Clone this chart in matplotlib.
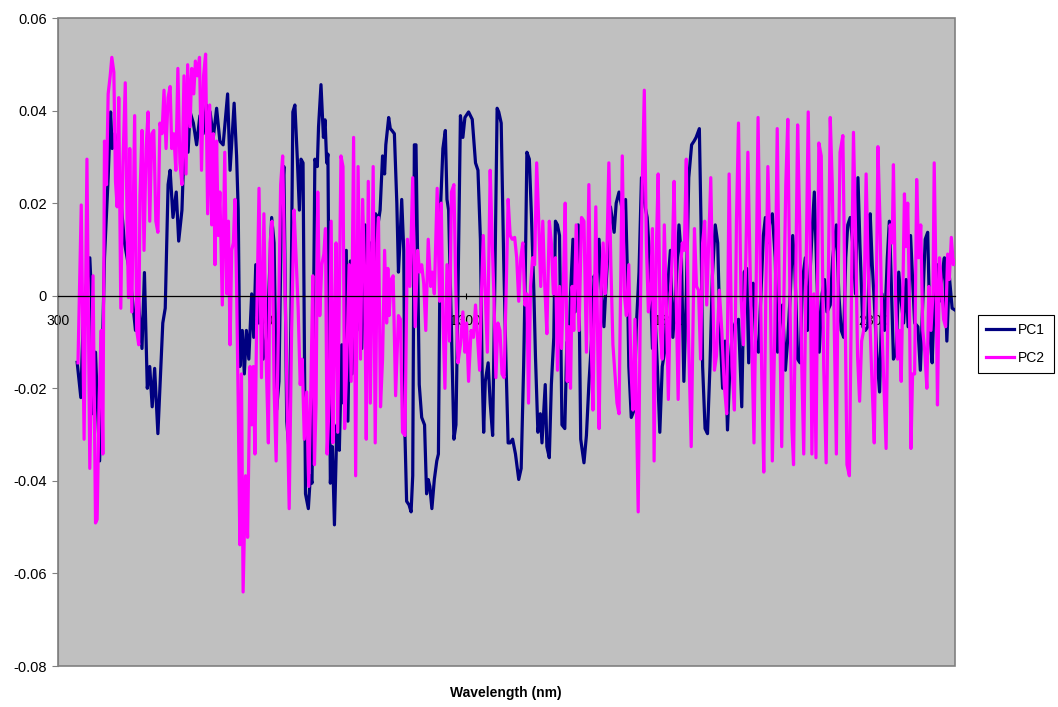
import numpy as np
import matplotlib.pyplot as plt
from matplotlib.ticker import FuncFormatter

plt.rcParams['font.family'] = ['Liberation Sans', 'DejaVu Sans']
plt.rcParams['axes.unicode_minus'] = False

# PC1 loadings (turning points)
pc1_wl = [347, 356, 361, 365, 378, 382, 386, 392, 396, 402, 406, 414, 423, 429, 433, 439, 451, 463, 476, 490,
          496, 506, 512, 519, 525, 531, 537, 545, 550, 557, 563, 570, 575, 582, 590, 596, 604, 610, 619, 624,
          632, 640, 648, 656, 664, 673, 681, 689, 697, 705, 716, 722, 732, 738, 742, 746, 752, 757, 762, 768,
          775, 780, 785, 791, 798, 803, 811, 817, 824, 830, 836, 842, 848, 854, 861, 866, 871, 876, 881, 887,
          892, 896, 901, 907, 914, 919, 923, 930, 936, 939, 945, 951, 955, 959, 962, 968, 973, 978, 984, 990,
          996, 1000, 1007, 1011, 1017, 1021, 1027, 1033, 1041, 1045, 1053, 1057, 1066, 1071, 1079, 1086, 1090, 1096, 1101, 1104,
          1111, 1115, 1119, 1125, 1131, 1135, 1139, 1143, 1148, 1151, 1155, 1161, 1166, 1170, 1174, 1178, 1182, 1186, 1192, 1199,
          1204, 1208, 1212, 1217, 1223, 1229, 1233, 1238, 1244, 1250, 1254, 1258, 1265, 1271, 1276, 1281, 1287, 1293, 1298, 1307,
          1316, 1324, 1330, 1336, 1340, 1344, 1348, 1355, 1360, 1366, 1371, 1377, 1381, 1387, 1393, 1399, 1404, 1409, 1415, 1422,
          1430, 1436, 1442, 1446, 1450, 1456, 1461, 1467, 1471, 1477, 1483, 1487, 1491, 1495, 1499, 1505, 1510, 1516, 1520, 1525,
          1530, 1536, 1543, 1548, 1552, 1557, 1563, 1568, 1576, 1582, 1590, 1596, 1602, 1609, 1615, 1620, 1627, 1633, 1639, 1643,
          1650, 1655, 1664, 1669, 1676, 1684, 1692, 1696, 1700, 1706, 1713, 1718, 1725, 1731, 1740, 1745, 1751, 1758, 1764, 1770,
          1776, 1782, 1789, 1794, 1802, 1808, 1815, 1823, 1829, 1835, 1841, 1847, 1854, 1860, 1865, 1873, 1877, 1881, 1887, 1893,
          1899, 1905, 1912, 1918, 1923, 1930, 1936, 1942, 1948, 1954, 1961, 1969, 1977, 1983, 1989, 1994, 2000, 2005, 2012, 2018,
          2024, 2030, 2035, 2040, 2046, 2052, 2059, 2065, 2071, 2077, 2084, 2090, 2096, 2102, 2107, 2114, 2120, 2126, 2133, 2138,
          2142, 2149, 2155, 2160, 2167, 2174, 2180, 2186, 2194, 2200, 2209, 2215, 2221, 2227, 2232, 2237, 2243, 2249, 2256, 2262,
          2267, 2274, 2280, 2286, 2292, 2297, 2302, 2308, 2315, 2321, 2327, 2334, 2339, 2343, 2349, 2356, 2362, 2368, 2374, 2380,
          2385, 2391, 2396, 2401, 2409, 2415, 2421, 2427, 2433, 2439, 2444, 2450, 2456, 2462, 2468, 2474, 2480, 2486, 2493, 2500]
pc1 = [-0.0144, -0.0220, -0.0075, -0.0010, 0.0082, 0.0004, -0.0255, -0.0122, -0.0216, -0.0357, -0.0232, 0.0082, 0.0255, 0.0397, 0.0318, 0.0350, 0.0240, 0.0114, 0.0050, -0.0075,
       0.0004, -0.0114, 0.0050, -0.0200, -0.0153, -0.0240, -0.0157, -0.0298, -0.0200, -0.0059, -0.0027, 0.0240, 0.0271, 0.0169, 0.0224, 0.0118, 0.0185, 0.0342, 0.0310, 0.0397,
       0.0373, 0.0326, 0.0389, 0.0350, 0.0412, 0.0397, 0.0342, 0.0405, 0.0334, 0.0326, 0.0436, 0.0271, 0.0416, 0.0302, 0.0185, -0.0153, -0.0075, -0.0169, -0.0075, -0.0137,
       0.0004, -0.0090, 0.0067, -0.0059, 0.0050, -0.0137, -0.0090, 0.0004, 0.0169, 0.0114, -0.0247, -0.0185, 0.0185, 0.0279, -0.0271, -0.0326, -0.0075, 0.0397, 0.0412, 0.0295,
       0.0185, 0.0295, 0.0287, -0.0428, -0.0460, -0.0389, -0.0405, 0.0295, 0.0279, 0.0365, 0.0456, 0.0342, 0.0380, 0.0287, 0.0306, -0.0405, -0.0326, -0.0495, -0.0279, -0.0334,
       -0.0106, -0.0232, 0.0098, -0.0271, 0.0075, -0.0169, 0.0004, -0.0075, 0.0067, -0.0114, 0.0153, -0.0153, 0.0114, -0.0059, 0.0177, 0.0161, 0.0185, 0.0302, 0.0263, 0.0326,
       0.0385, 0.0361, 0.0357, 0.0350, 0.0200, 0.0051, 0.0122, 0.0208, 0.0098, -0.0302, -0.0444, -0.0452, -0.0467, -0.0389, 0.0326, 0.0326, 0.0082, -0.0192, -0.0263, -0.0279,
       -0.0428, -0.0397, -0.0412, -0.0460, -0.0397, -0.0357, -0.0342, 0.0185, 0.0318, 0.0357, 0.0208, 0.0185, -0.0075, -0.0310, -0.0279, 0.0004, 0.0389, 0.0342, 0.0385, 0.0397,
       0.0381, 0.0287, 0.0271, 0.0122, -0.0153, -0.0295, -0.0185, -0.0145, -0.0232, -0.0302, 0.0004, 0.0405, 0.0397, 0.0373, 0.0082, -0.0153, -0.0318, -0.0318, -0.0310, -0.0342,
       -0.0397, -0.0373, -0.0153, 0.0043, 0.0310, 0.0295, 0.0177, 0.0012, -0.0130, -0.0295, -0.0255, -0.0318, -0.0255, -0.0192, -0.0326, -0.0350, -0.0192, -0.0090, 0.0161, 0.0153,
       0.0130, -0.0279, -0.0287, -0.0100, -0.0185, 0.0004, 0.0122, -0.0035, 0.0153, -0.0310, -0.0361, -0.0302, -0.0192, -0.0090, 0.0043, 0.0004, 0.0122, 0.0004, -0.0067, 0.0004,
       0.0114, 0.0192, 0.0137, 0.0200, 0.0224, 0.0185, 0.0208, 0.0067, -0.0153, -0.0263, -0.0247, -0.0075, 0.0051, 0.0255, 0.0192, 0.0169, 0.0082, -0.0114, -0.0035, -0.0153,
       -0.0295, -0.0153, -0.0114, 0.0004, 0.0098, -0.0090, 0.0004, 0.0153, 0.0082, -0.0185, 0.0004, 0.0255, 0.0326, 0.0334, 0.0342, 0.0361, 0.0161, -0.0153, -0.0287, -0.0298,
       -0.0153, 0.0043, 0.0153, 0.0114, -0.0059, -0.0200, -0.0098, -0.0290, -0.0153, -0.0075, -0.0059, -0.0051, -0.0240, 0.0051, 0.0059, -0.0145, -0.0012, 0.0027, -0.0114, -0.0122,
       0.0004, 0.0130, 0.0169, 0.0114, 0.0161, 0.0177, 0.0082, -0.0122, -0.0059, -0.0020, -0.0161, -0.0090, 0.0004, 0.0130, 0.0067, -0.0137, -0.0145, 0.0035, 0.0082, -0.0075,
       0.0004, 0.0130, 0.0224, 0.0082, -0.0122, 0.0004, 0.0035, -0.0035, -0.0020, 0.0082, 0.0153, 0.0004, -0.0075, -0.0090, 0.0082, 0.0153, 0.0169, 0.0114, 0.0004, 0.0255,
       0.0106, -0.0067, -0.0075, -0.0067, 0.0177, 0.0067, -0.0012, -0.0122, -0.0208, 0.0004, -0.0075, 0.0082, 0.0161, 0.0051, -0.0137, -0.0122, 0.0051, -0.0012, -0.0059, 0.0035,
       -0.0067, 0.0130, 0.0035, -0.0059, -0.0067, -0.0161, -0.0012, 0.0122, 0.0137, -0.0090, -0.0145, 0.0020, 0.0067, -0.0012, 0.0043, 0.0082, -0.0098, 0.0043, -0.0027, -0.0031]

# PC2 loadings
pc2_wl = [349, 357, 364, 371, 378, 386, 392, 396, 401, 406, 410, 414, 419, 423, 428, 432, 437, 441, 445, 449,
          454, 459, 465, 470, 473, 476, 481, 488, 493, 498, 501, 506, 511, 516, 521, 525, 530, 535, 540, 545,
          550, 555, 560, 565, 570, 575, 579, 584, 589, 594, 599, 604, 609, 614, 618, 624, 628, 633, 637, 642,
          647, 652, 657, 662, 667, 672, 677, 681, 685, 689, 693, 697, 703, 709, 714, 718, 722, 726, 730, 734,
          738, 742, 746, 750, 754, 760, 765, 771, 775, 779, 783, 787, 793, 799, 805, 811, 816, 820, 825, 830,
          835, 840, 846, 851, 857, 862, 867, 873, 879, 884, 889, 894, 899, 904, 910, 915, 920, 925, 929, 933,
          937, 942, 947, 952, 956, 960, 965, 970, 974, 978, 982, 986, 990, 994, 999, 1003, 1008, 1014, 1019, 1025,
          1030, 1036, 1042, 1047, 1052, 1056, 1061, 1066, 1073, 1078, 1083, 1086, 1091, 1096, 1101, 1106, 1109, 1112, 1117, 1122,
          1128, 1135, 1140, 1145, 1151, 1157, 1163, 1170, 1176, 1182, 1187, 1192, 1197, 1202, 1208, 1214, 1218, 1223, 1230, 1236,
          1240, 1244, 1249, 1254, 1260, 1265, 1271, 1276, 1281, 1287, 1293, 1298, 1302, 1307, 1313, 1319, 1324, 1329, 1334, 1338,
          1343, 1348, 1353, 1360, 1365, 1369, 1374, 1379, 1384, 1389, 1394, 1399, 1404, 1409, 1414, 1420, 1425, 1430, 1435, 1440,
          1445, 1450, 1454, 1459, 1464, 1469, 1474, 1479, 1484, 1489, 1494, 1499, 1505, 1510, 1515, 1520, 1525, 1530, 1535, 1539,
          1544, 1549, 1553, 1557, 1561, 1565, 1571, 1578, 1584, 1590, 1596, 1602, 1607, 1612, 1619, 1624, 1627, 1632, 1637, 1642,
          1646, 1651, 1656, 1661, 1666, 1671, 1676, 1681, 1684, 1689, 1694, 1700, 1705, 1710, 1715, 1720, 1723, 1728, 1733, 1738,
          1743, 1748, 1753, 1758, 1762, 1767, 1772, 1777, 1782, 1787, 1792, 1797, 1802, 1807, 1811, 1816, 1821, 1826, 1831, 1836,
          1841, 1846, 1853, 1861, 1866, 1871, 1876, 1881, 1886, 1891, 1896, 1901, 1905, 1910, 1915, 1922, 1928, 1934, 1940, 1946,
          1953, 1959, 1964, 1969, 1975, 1981, 1987, 1992, 1997, 2002, 2007, 2012, 2017, 2022, 2026, 2031, 2036, 2041, 2046, 2052,
          2058, 2064, 2069, 2075, 2079, 2085, 2090, 2095, 2100, 2104, 2109, 2114, 2119, 2124, 2129, 2134, 2140, 2145, 2149, 2154,
          2159, 2166, 2172, 2178, 2184, 2189, 2194, 2199, 2204, 2209, 2213, 2218, 2225, 2230, 2235, 2241, 2246, 2251, 2256, 2261,
          2266, 2271, 2276, 2282, 2287, 2292, 2297, 2302, 2307, 2311, 2316, 2321, 2326, 2331, 2336, 2341, 2346, 2349, 2354, 2359,
          2364, 2368, 2372, 2376, 2380, 2384, 2388, 2392, 2396, 2401, 2406, 2411, 2416, 2421, 2426, 2431, 2436, 2441, 2446, 2449,
          2454, 2457, 2462, 2467, 2472, 2477, 2482, 2486, 2491, 2496, 2500]
pc2 = [-0.0145, 0.0196, -0.0310, 0.0295, -0.0373, 0.0043, -0.0491, -0.0483, -0.0224, -0.0075, -0.0342, 0.0334, 0.0240, 0.0436, 0.0475, 0.0515, 0.0483, 0.0247, 0.0192, 0.0428,
       -0.0027, 0.0279, 0.0460, 0.0122, -0.0004, 0.0318, -0.0035, 0.0389, -0.0075, -0.0106, 0.0216, 0.0357, 0.0098, 0.0318, 0.0397, 0.0161, 0.0350, 0.0357, 0.0161, 0.0137,
       0.0373, 0.0350, 0.0444, 0.0318, 0.0428, 0.0452, 0.0318, 0.0350, 0.0271, 0.0491, 0.0287, 0.0240, 0.0475, 0.0263, 0.0499, 0.0365, 0.0491, 0.0436, 0.0507, 0.0475,
       0.0515, 0.0271, 0.0475, 0.0522, 0.0177, 0.0412, 0.0153, 0.0350, 0.0067, 0.0334, 0.0130, 0.0224, -0.0020, 0.0310, 0.0004, 0.0161, -0.0106, 0.0098, 0.0114, 0.0208,
       0.0020, -0.0232, -0.0538, -0.0169, -0.0640, -0.0389, -0.0522, -0.0153, -0.0279, -0.0153, -0.0342, -0.0075, 0.0232, -0.0177, 0.0177, -0.0153, -0.0318, 0.0114, 0.0161, -0.0200,
       -0.0357, -0.0098, 0.0240, 0.0302, 0.0004, -0.0232, -0.0460, -0.0075, 0.0185, 0.0082, -0.0027, -0.0192, -0.0137, -0.0310, -0.0208, -0.0412, -0.0208, 0.0043, -0.0365, -0.0232,
       0.0224, -0.0043, 0.0067, 0.0090, 0.0145, -0.0342, -0.0232, 0.0161, -0.0318, -0.0075, 0.0114, -0.0295, 0.0004, 0.0302, 0.0279, -0.0287, -0.0153, 0.0067, -0.0185, 0.0342,
       -0.0389, 0.0279, -0.0137, 0.0208, 0.0051, -0.0310, 0.0247, -0.0232, 0.0279, -0.0318, 0.0114, 0.0169, -0.0240, -0.0137, 0.0098, -0.0059, 0.0059, -0.0043, 0.0035, 0.0043,
       -0.0216, -0.0043, -0.0051, -0.0295, -0.0302, 0.0122, 0.0020, 0.0255, -0.0067, 0.0098, 0.0051, 0.0067, 0.0027, -0.0075, 0.0122, 0.0020, 0.0051, 0.0004, 0.0232, -0.0012,
       0.0200, -0.0043, -0.0200, 0.0067, -0.0098, 0.0224, 0.0240, 0.0004, -0.0145, -0.0106, -0.0035, -0.0122, -0.0059, -0.0185, -0.0075, -0.0090, -0.0020, -0.0090, -0.0161, -0.0012,
       0.0130, 0.0004, -0.0122, 0.0271, 0.0114, 0.0004, -0.0177, -0.0059, -0.0075, -0.0169, -0.0177, 0.0004, 0.0208, 0.0130, 0.0122, 0.0126, 0.0082, -0.0012, 0.0082, 0.0114,
       -0.0020, 0.0004, -0.0232, 0.0020, 0.0082, 0.0067, 0.0287, 0.0161, 0.0020, 0.0161, 0.0020, -0.0082, 0.0161, 0.0114, 0.0004, 0.0082, -0.0161, 0.0020, -0.0114, 0.0004,
       0.0200, -0.0185, -0.0067, -0.0200, 0.0020, -0.0075, 0.0153, -0.0075, 0.0169, 0.0161, -0.0122, 0.0240, -0.0075, -0.0247, 0.0192, -0.0122, -0.0287, 0.0004, 0.0114, 0.0004,
       0.0082, 0.0287, 0.0067, -0.0106, -0.0169, -0.0232, -0.0255, 0.0082, 0.0302, 0.0004, -0.0043, 0.0067, -0.0153, -0.0247, -0.0051, -0.0310, -0.0467, -0.0043, 0.0240, 0.0444,
       0.0114, -0.0035, 0.0004, 0.0145, -0.0357, 0.0082, 0.0263, -0.0075, -0.0137, 0.0153, -0.0020, -0.0224, 0.0004, 0.0098, 0.0247, 0.0004, -0.0224, 0.0043, 0.0114, 0.0098,
       0.0295, -0.0075, -0.0326, 0.0145, 0.0020, 0.0012, -0.0137, 0.0114, 0.0161, -0.0020, 0.0114, 0.0255, 0.0051, -0.0161, -0.0130, 0.0012, -0.0075, -0.0192, -0.0255, 0.0263,
       -0.0153, -0.0247, 0.0161, 0.0373, 0.0004, -0.0106, 0.0082, 0.0310, 0.0082, -0.0122, -0.0318, 0.0004, 0.0385, 0.0082, -0.0169, -0.0381, 0.0004, 0.0279, 0.0114, -0.0357,
       -0.0075, 0.0361, 0.0004, -0.0326, -0.0075, 0.0240, 0.0381, 0.0004, -0.0287, -0.0365, 0.0004, 0.0369, 0.0161, -0.0145, -0.0342, 0.0004, 0.0397, 0.0082, -0.0342, 0.0004,
       -0.0350, 0.0330, 0.0302, -0.0153, -0.0361, 0.0004, 0.0385, 0.0240, -0.0075, -0.0342, 0.0004, 0.0310, 0.0346, 0.0004, -0.0365, -0.0389, 0.0004, 0.0353, 0.0145, -0.0130,
       -0.0228, -0.0098, -0.0075, 0.0263, 0.0067, -0.0075, -0.0200, -0.0318, 0.0004, 0.0322, 0.0161, -0.0075, -0.0200, -0.0330, 0.0004, 0.0153, 0.0114, 0.0283, 0.0004, -0.0137,
       -0.0075, -0.0185, 0.0004, 0.0220, 0.0106, 0.0200, 0.0004, -0.0330, -0.0169, -0.0169, 0.0251, 0.0082, 0.0153, -0.0075, -0.0122, -0.0200, 0.0020, -0.0075, 0.0004, 0.0287,
       0.0004, -0.0236, 0.0082, 0.0020, -0.0051, -0.0067, 0.0090, 0.0035, 0.0126, 0.0067, 0.0075]

xticks = [300, 800, 1300, 1800, 2300]
yticks = [-0.08, -0.06, -0.04, -0.02, 0, 0.02, 0.04, 0.06]

fig = plt.figure(figsize=(10.58, 7.07), dpi=100)
ax = fig.add_axes([58/1058, 41/707, 897/1058, 648/707])
ax.set_facecolor("#c0c0c0")

ax.plot(pc1_wl, pc1, color="#000080", lw=2.3, label="PC1", solid_joinstyle="round")
ax.plot(pc2_wl, pc2, color="#ff00ff", lw=2.3, label="PC2", solid_joinstyle="round")

ax.set_xlim(300, 2500)
ax.set_ylim(-0.08, 0.06)

# frame around the plot area, category axis crosses at zero
ax.patch.set_edgecolor("#808080")
ax.patch.set_linewidth(1.2)
ax.spines['top'].set_visible(False)
ax.spines['right'].set_visible(False)
ax.spines['left'].set_color("#808080")
ax.spines['bottom'].set_position(('data', 0))
ax.spines['bottom'].set_color("black")
ax.spines['bottom'].set_linewidth(0.9)

ax.set_xticks(xticks)
ax.set_xticklabels([str(t) for t in xticks])
ax.set_yticks(yticks)
ax.yaxis.set_major_formatter(FuncFormatter(lambda v, p: "0" if abs(v) < 1e-9 else f"{v:.2f}"))
ax.tick_params(axis='x', direction='inout', length=5, width=0.8, labelsize=10, pad=11)
ax.tick_params(axis='y', direction='out', length=4, width=0.8, color="#808080", labelsize=10.5, pad=4)

fig.text(506/1058, 1 - 693/707, "Wavelength (nm)", ha="center", va="center", fontsize=10, fontweight="bold")

leg = fig.legend(loc="center left", bbox_to_anchor=(978/1058, 1 - 344/707), fontsize=10,
                 handlelength=2.0, handletextpad=0.3, borderpad=0.6, labelspacing=1.0,
                 borderaxespad=0, fancybox=False, shadow=False, framealpha=1)
leg.get_frame().set_edgecolor("black")
leg.get_frame().set_linewidth(0.8)

plt.savefig("out.png", dpi=100)
